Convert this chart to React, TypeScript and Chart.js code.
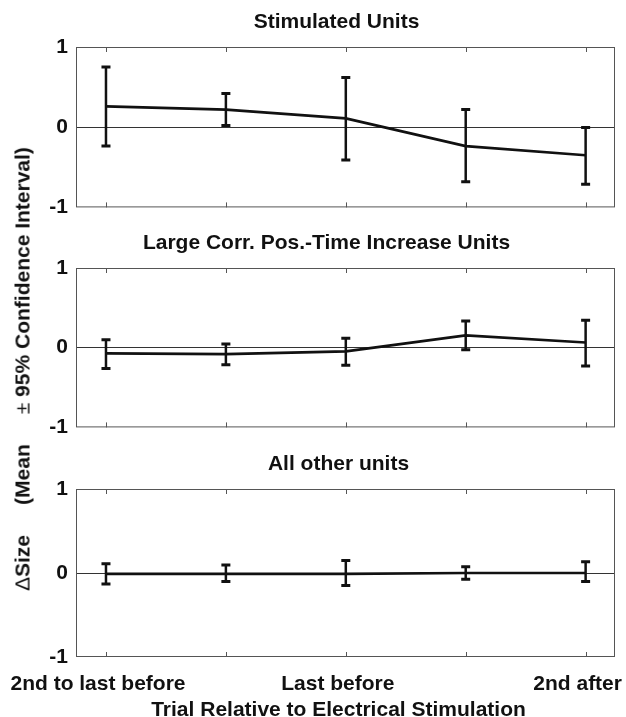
import React, { useEffect, useRef } from 'react';
import { Chart, registerables } from 'chart.js';

Chart.register(...registerables);

const categories = [1, 2, 3, 4, 5];
const xTickValues = [1, 3, 5];
const xTickLabels = ['2nd to last before', 'Last before', '2nd after'];
const yTickValues = [-1, 0, 1];
const panelTitles = ['Stimulated Units', 'Large Corr. Pos.-Time Increase Units', 'All other units'];
const xAxisTitle = 'Trial Relative to Electrical Stimulation';

const stimMean = [0.26, 0.22, 0.11, -0.235, -0.35];
const stimLower = [-0.235, 0.02, -0.41, -0.68, -0.71];
const stimUpper = [0.75, 0.42, 0.62, 0.22, -0.005];

const largeMean = [-0.07, -0.08, -0.045, 0.155, 0.065];
const largeLower = [-0.26, -0.215, -0.22, -0.025, -0.23];
const largeUpper = [0.1, 0.045, 0.12, 0.335, 0.345];

const otherMean = [-0.01, -0.01, -0.01, 0, 0];
const otherLower = [-0.13, -0.1, -0.15, -0.075, -0.1];
const otherUpper = [0.11, 0.095, 0.15, 0.075, 0.135];

const FONT = '"Liberation Sans", Arial, Helvetica, sans-serif';

type PanelSpec = {
  title: string;
  mean: number[];
  lower: number[];
  upper: number[];
  top: number;
  height: number;
  padTop: number;
  padBottom: number;
  titleDx: number;
  showX: boolean;
};

const panels: PanelSpec[] = [
  { title: panelTitles[0], mean: stimMean, lower: stimLower, upper: stimUpper, top: 0, height: 228, padTop: 47, padBottom: 13, titleDx: -9, showX: false },
  { title: panelTitles[1], mean: largeMean, lower: largeLower, upper: largeUpper, top: 228, height: 220, padTop: 40, padBottom: 12, titleDx: -19, showX: false },
  { title: panelTitles[2], mean: otherMean, lower: otherLower, upper: otherUpper, top: 448, height: 269, padTop: 41, padBottom: 60, titleDx: -7, showX: true },
];

const decorPlugin = {
  id: 'decor',
  beforeDatasetsDraw(chart: any) {
    const { ctx, chartArea } = chart;
    const xs = chart.scales.x;
    ctx.save();
    ctx.strokeStyle = '#555';
    ctx.lineWidth = 1;
    ctx.strokeRect(chartArea.left + 0.5, chartArea.top + 0.5, chartArea.right - chartArea.left - 1, chartArea.bottom - chartArea.top - 1);
    ctx.beginPath();
    for (const c of categories) {
      const x = Math.round(xs.getPixelForValue(c)) + 0.5;
      ctx.moveTo(x, chartArea.top);
      ctx.lineTo(x, chartArea.top + 5);
      ctx.moveTo(x, chartArea.bottom);
      ctx.lineTo(x, chartArea.bottom - 5);
    }
    ctx.stroke();
    ctx.restore();
  },
  afterDatasetsDraw(chart: any, _args: any, opts: any) {
    const { ctx, chartArea } = chart;
    const xs = chart.scales.x;
    const ys = chart.scales.y;
    const spec: PanelSpec = opts.spec;
    ctx.save();
    ctx.strokeStyle = '#111';
    for (let i = 0; i < categories.length; i++) {
      const x = xs.getPixelForValue(categories[i]);
      const y1 = ys.getPixelForValue(spec.lower[i]);
      const y2 = ys.getPixelForValue(spec.upper[i]);
      ctx.lineWidth = 2.5;
      ctx.beginPath();
      ctx.moveTo(x, y1);
      ctx.lineTo(x, y2);
      ctx.stroke();
      ctx.lineWidth = 3;
      ctx.beginPath();
      ctx.moveTo(x - 4.5, y1);
      ctx.lineTo(x + 4.5, y1);
      ctx.moveTo(x - 4.5, y2);
      ctx.lineTo(x + 4.5, y2);
      ctx.stroke();
    }
    const cx = (chartArea.left + chartArea.right) / 2;
    ctx.fillStyle = '#111';
    ctx.font = `bold 21px ${FONT}`;
    ctx.textAlign = 'center';
    ctx.textBaseline = 'middle';
    ctx.fillText(spec.title, cx + spec.titleDx, chartArea.top - 25);
    if (spec.showX) {
      for (let i = 0; i < xTickValues.length; i++) {
        const x = xs.getPixelForValue(xTickValues[i]);
        ctx.fillText(xTickLabels[i], x - 8, chartArea.bottom + 27);
      }
      ctx.fillText(xAxisTitle, cx - 7, chartArea.bottom + 53);
    }
    ctx.restore();
  },
};

export default function App() {
  const refs = [useRef<HTMLCanvasElement>(null), useRef<HTMLCanvasElement>(null), useRef<HTMLCanvasElement>(null)];

  useEffect(() => {
    const charts: Chart[] = [];
    panels.forEach((spec, idx) => {
      const canvas = refs[idx].current;
      if (!canvas) return;
      const chart = new Chart(canvas, {
        type: 'line',
        data: {
          datasets: [
            {
              data: categories.map((c, i) => ({ x: c, y: spec.mean[i] })),
              borderColor: '#111',
              borderWidth: 2.7,
              pointRadius: 0,
              tension: 0,
              fill: false,
            },
          ],
        },
        options: {
          animation: false,
          responsive: false,
          devicePixelRatio: 1,
          layout: { padding: { top: spec.padTop, bottom: spec.padBottom, left: 0, right: 11 } },
          plugins: {
            legend: { display: false },
            title: { display: false },
            tooltip: { enabled: false },
            decor: { spec },
          } as any,
          scales: {
            x: {
              type: 'linear',
              min: 0.75,
              max: 5.245,
              display: false,
            },
            y: {
              type: 'linear',
              min: -1,
              max: 1,
              afterBuildTicks: (s: any) => {
                s.ticks = yTickValues.map((v) => ({ value: v }));
              },
              afterFit: (s: any) => {
                s.width = 76;
              },
              ticks: {
                color: '#111',
                padding: 8,
                font: { family: FONT, size: 21, weight: 'bold' },
                callback: (v: any) => String(v),
              },
              grid: {
                drawTicks: false,
                lineWidth: 1,
                color: (c: any) => (c.tick && c.tick.value === 0 ? '#333' : 'rgba(0,0,0,0)'),
              },
              border: { display: false },
            },
          },
        },
        plugins: [decorPlugin],
      });
      charts.push(chart);
    });
    return () => charts.forEach((c) => c.destroy());
  }, []);

  return (
    <div style={{ position: 'absolute', left: 0, top: 0, width: 626, height: 717, background: '#fff', overflow: 'hidden' }}>
      {panels.map((p, i) => (
        <canvas
          key={i}
          ref={refs[i]}
          width={626}
          height={p.height}
          style={{ position: 'absolute', left: 0, top: p.top, width: 626, height: p.height, display: 'block' }}
        />
      ))}
      <div
        style={{
          position: 'absolute',
          left: 22,
          top: 369,
          transform: 'translate(-50%, -50%) rotate(-90deg)',
          whiteSpace: 'nowrap',
          fontFamily: FONT,
          fontWeight: 'bold',
          fontSize: 21,
          color: '#111',
          lineHeight: 1,
        }}
      >
        <span style={{ fontWeight: 'normal' }}>Δ</span>
        <span>Size</span>
        <span style={{ marginLeft: 30 }}>(Mean</span>
        <span style={{ marginLeft: 30, fontWeight: 'normal' }}>±</span>
        <span> 95% Confidence Interval)</span>
      </div>
    </div>
  );
}
